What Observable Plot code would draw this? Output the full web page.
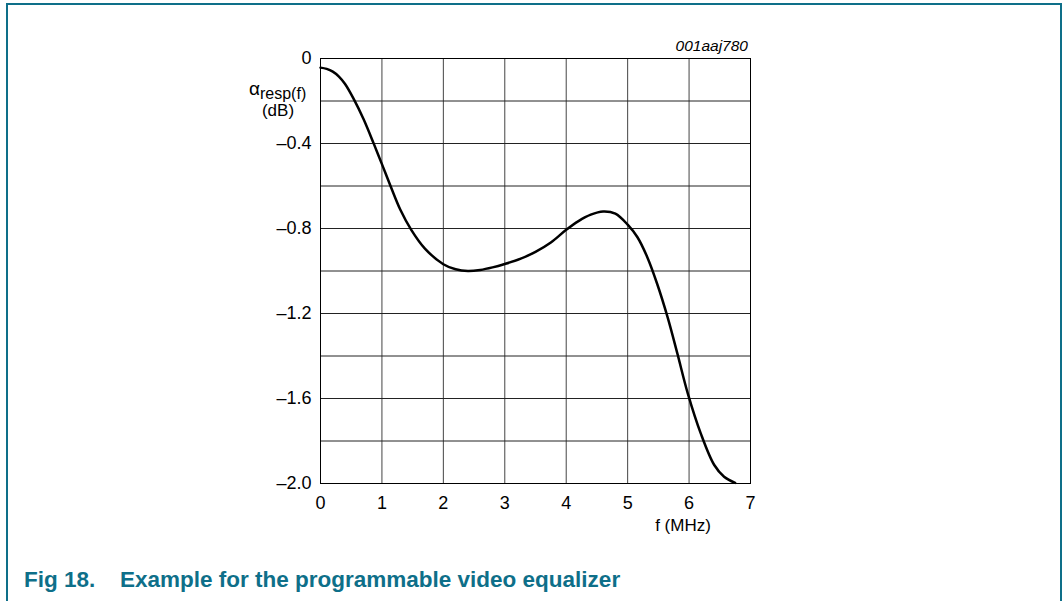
<!DOCTYPE html>
<html>
<head>
<meta charset="utf-8">
<script src="https://cdn.jsdelivr.net/npm/d3@7"></script>
<script src="https://cdn.jsdelivr.net/npm/@observablehq/plot@0.6"></script>
<style>
  html, body { margin: 0; padding: 0; background: #fff; }
  #wrap { position: relative; width: 1063px; height: 601px; overflow: hidden; font-family: "Liberation Sans", Arial, sans-serif; }
  #border { position: absolute; left: 6px; top: 3px; width: 1052px; height: 700px; border: 2px solid #0e6f89; }
  #chart { position: absolute; left: 0; top: 0; }
  #caption { position: absolute; left: 0; top: 550px; }
</style>
</head>
<body>
<div id="wrap">
  <div id="border"></div>
  <div id="chart"></div>
  <svg id="caption" width="1063" height="51"></svg>
</div>
<script>
const freq = [0, 0.1, 0.2, 0.3, 0.4, 0.54, 0.7, 0.87, 1.0, 1.14, 1.3, 1.48, 1.7, 2.0, 2.2, 2.4, 2.6, 2.8, 3.0, 3.25, 3.5, 3.75, 4.0, 4.2, 4.4, 4.6, 4.8, 5.0, 5.16, 5.32, 5.48, 5.65, 5.81, 5.98, 6.19, 6.41, 6.57, 6.75];
const resp = [-0.043, -0.049, -0.062, -0.085, -0.12, -0.19, -0.285, -0.403, -0.497, -0.6, -0.712, -0.808, -0.895, -0.968, -0.992, -1.0, -0.995, -0.983, -0.967, -0.943, -0.91, -0.866, -0.806, -0.765, -0.735, -0.72, -0.73, -0.782, -0.841, -0.935, -1.06, -1.217, -1.389, -1.577, -1.764, -1.913, -1.968, -1.997];
const xTicks = [0, 1, 2, 3, 4, 5, 6, 7];
const yTickLabels = [0, -0.4, -0.8, -1.2, -1.6, -2.0];
const yGrid = [0, -0.2, -0.4, -0.6, -0.8, -1.0, -1.2, -1.4, -1.6, -1.8, -2.0];
const figNumber = "Fig 18.";
const figTitle = "Example for the programmable video equalizer";

const data = freq.map((f, i) => ({f, v: resp[i]}));

const plot = Plot.plot({
  width: 1063,
  height: 601,
  marginLeft: 320,
  marginRight: 313,
  marginTop: 58,
  marginBottom: 118,
  style: { fontFamily: "'Liberation Sans', Arial, sans-serif", fontSize: "18px", color: "#000", background: "transparent" },
  x: { domain: [0, 7] },
  y: { domain: [-2, 0] },
  marks: [
    Plot.gridX(xTicks, { stroke: "#444", strokeOpacity: 1, strokeWidth: 1 }),
    Plot.gridY(yGrid, { stroke: "#222", strokeOpacity: 1, strokeWidth: 1 }),
    Plot.frame({ stroke: "#000", strokeWidth: 1 }),
    Plot.axisX(xTicks, { tickSize: 0, tickPadding: 13, tickFormat: d => String(d), label: null, fontSize: 18 }),
    Plot.axisY(yTickLabels, { tickSize: 0, tickPadding: 9, tickFormat: d => d === 0 ? "0" : "\u2013" + Math.abs(d).toFixed(1), label: null, fontSize: 18 }),
    Plot.line(data, { x: "f", y: "v", curve: "catmull-rom", stroke: "#000", strokeWidth: 2.5 })
  ]
});
document.getElementById("chart").appendChild(plot);

const svg = d3.select(plot);
const g = svg.append("g").attr("font-family", "'Liberation Sans', Arial, sans-serif").attr("fill", "#000");
const yl = g.append("text").attr("x", 249).attr("y", 95).attr("font-size", 19).attr("text-anchor", "start");
yl.append("tspan").text("\u03b1");
yl.append("tspan").attr("font-size", 16).attr("dy", 3.5).text("resp(f)");
g.append("text").attr("x", 278).attr("y", 116).attr("text-anchor", "middle").attr("font-size", 17).text("(dB)");
g.append("text").attr("x", 683).attr("y", 531).attr("text-anchor", "middle").attr("font-size", 17).text("f (MHz)");
g.append("text").attr("x", 748).attr("y", 51).attr("text-anchor", "end").attr("font-size", 15.5).attr("font-style", "italic").text("001aaj780");

const cap = d3.select("#caption").append("g")
  .attr("font-family", "'Liberation Sans', Arial, sans-serif")
  .attr("font-weight", "bold").attr("font-size", 22.5).attr("fill", "#0e6f89");
cap.append("text").attr("x", 24).attr("y", 37).text(figNumber);
cap.append("text").attr("x", 120).attr("y", 37).text(figTitle);
</script>
</body>
</html>
